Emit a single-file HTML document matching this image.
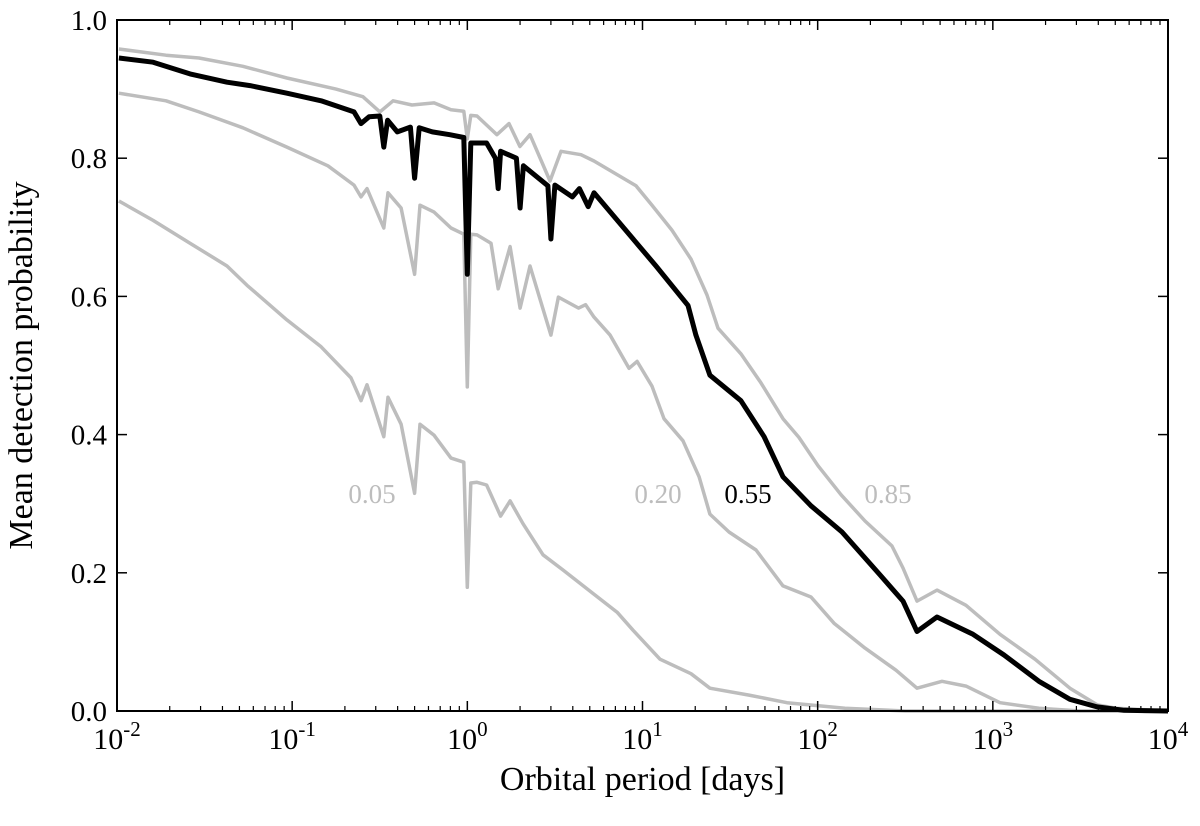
<!DOCTYPE html>
<html><head><meta charset="utf-8"><style>
body{margin:0;background:#fff}
svg text{font-family:"Liberation Serif",serif}
</style></head><body>
<svg id="chart" width="1200" height="821" viewBox="0 0 1200 821" xmlns="http://www.w3.org/2000/svg">
<g id="plot"></g>
</svg>
<script>
// log10 period values and mean detection probability for each curve
const logP85 = [-1.989,-1.72,-1.532,-1.281,-1.03,-0.75,-0.596,-0.499,-0.424,-0.316,-0.19,-0.093,-0.02,0,0.02,0.055,0.169,0.238,0.30,0.358,0.472,0.535,0.649,0.723,0.963,1.054,1.168,1.277,1.368,1.431,1.562,1.676,1.802,1.893,2.002,2.133,2.270,2.424,2.487,2.567,2.681,2.847,3.041,3.241,3.440,3.595,3.703,4.0];
const val85  = [0.958,0.949,0.945,0.933,0.916,0.900,0.889,0.867,0.883,0.877,0.880,0.870,0.868,0.828,0.862,0.861,0.834,0.850,0.817,0.834,0.767,0.810,0.805,0.796,0.76,0.732,0.696,0.654,0.602,0.554,0.517,0.475,0.423,0.396,0.355,0.313,0.275,0.239,0.207,0.159,0.175,0.153,0.111,0.075,0.033,0.009,0.004,0.0];
const logP55 = [-1.989,-1.794,-1.583,-1.372,-1.241,-1.03,-0.835,-0.647,-0.607,-0.56,-0.50,-0.477,-0.455,-0.40,-0.325,-0.301,-0.275,-0.2,-0.1,-0.02,0,0.02,0.11,0.16,0.176,0.19,0.28,0.301,0.32,0.46,0.477,0.50,0.6,0.64,0.69,0.723,1.077,1.260,1.305,1.385,1.562,1.694,1.802,1.962,2.139,2.356,2.487,2.567,2.681,2.887,3.064,3.263,3.440,3.595,3.75,4.0];
const val55  = [0.945,0.939,0.922,0.910,0.905,0.894,0.883,0.867,0.85,0.86,0.861,0.816,0.855,0.838,0.845,0.771,0.844,0.838,0.834,0.83,0.632,0.822,0.822,0.80,0.756,0.810,0.80,0.728,0.789,0.76,0.683,0.761,0.744,0.756,0.73,0.75,0.644,0.587,0.544,0.486,0.449,0.397,0.339,0.297,0.259,0.197,0.159,0.115,0.136,0.111,0.081,0.043,0.017,0.006,0.001,0.0];
const logP20 = [-1.989,-1.72,-1.532,-1.281,-1.03,-0.796,-0.647,-0.607,-0.573,-0.477,-0.453,-0.378,-0.301,-0.27,-0.19,-0.093,-0.02,0,0.02,0.055,0.135,0.176,0.244,0.301,0.358,0.477,0.52,0.635,0.675,0.723,0.815,0.923,0.969,1.054,1.123,1.231,1.323,1.385,1.494,1.648,1.802,1.962,2.093,2.270,2.447,2.567,2.710,2.847,3.041,3.263,3.5,4.0];
const val20  = [0.894,0.883,0.867,0.844,0.816,0.789,0.761,0.744,0.756,0.699,0.750,0.728,0.632,0.732,0.722,0.699,0.69,0.469,0.69,0.689,0.677,0.611,0.672,0.583,0.644,0.544,0.599,0.583,0.588,0.570,0.544,0.496,0.506,0.470,0.423,0.391,0.339,0.285,0.259,0.233,0.181,0.165,0.127,0.091,0.059,0.033,0.043,0.036,0.012,0.004,0.0,0.0];
const logP05 = [-1.989,-1.794,-1.583,-1.372,-1.258,-1.03,-0.835,-0.664,-0.607,-0.573,-0.477,-0.453,-0.378,-0.301,-0.27,-0.19,-0.093,-0.02,0,0.02,0.055,0.11,0.19,0.244,0.318,0.432,0.546,0.723,0.855,0.946,1.1,1.277,1.385,1.608,1.825,2.156,2.5,4.0];
const val05  = [0.738,0.710,0.677,0.644,0.616,0.566,0.527,0.482,0.449,0.472,0.397,0.454,0.415,0.315,0.415,0.399,0.366,0.36,0.179,0.33,0.331,0.327,0.282,0.304,0.271,0.226,0.204,0.169,0.143,0.117,0.075,0.054,0.033,0.023,0.012,0.004,0.0,0.0];
const yTicks = [0.0,0.2,0.4,0.6,0.8,1.0];
const xDecades = [-2,-1,0,1,2,3,4];

const L=117,R=1168,T=20,B=711;
const xs=v=>L+(v+2)/6*(R-L);
const ys=v=>B-v*(B-T);
const svg=document.getElementById('plot');
const NS='http://www.w3.org/2000/svg';
function mk(tag,attrs){const e=document.createElementNS(NS,tag);for(const k in attrs)e.setAttribute(k,attrs[k]);svg.appendChild(e);return e;}

function curve(lp,v,color,w,name){
  const d=lp.map((p,i)=>(i?'L':'M')+xs(p).toFixed(1)+','+ys(v[i]).toFixed(1)).join(' ');
  const e=mk('path',{d:d,fill:'none',stroke:color,'stroke-width':w,'stroke-linejoin':'round'});
  
  
}
curve(logP05,val05,'#bdbdbd',3.5,'curve-0-05');
curve(logP20,val20,'#bdbdbd',3.5,'curve-0-20');
curve(logP85,val85,'#bdbdbd',3.5,'curve-0-85');
curve(logP55,val55,'#000',5,'curve-0-55');

const fr=mk('rect',{x:L,y:T,width:R-L,height:B-T,fill:'none',stroke:'#000','stroke-width':2});



yTicks.forEach(t=>{
  const y=ys(t);
  mk('line',{x1:L,x2:L+10,y1:y,y2:y,stroke:'#000','stroke-width':1.5});
  mk('line',{x1:R,x2:R-10,y1:y,y2:y,stroke:'#000','stroke-width':1.5});
  const tx=mk('text',{x:L-10,y:y+10,'text-anchor':'end','font-size':29});
  tx.textContent=t.toFixed(1);
  
  
});
xDecades.forEach((d,i)=>{
  const x=xs(d);
  mk('line',{x1:x,x2:x,y1:B,y2:B-10,stroke:'#000','stroke-width':1.5});
  mk('line',{x1:x,x2:x,y1:T,y2:T+10,stroke:'#000','stroke-width':1.5});
  if(i<xDecades.length-1){for(let m=2;m<10;m++){const xm=xs(d+Math.log10(m));
    mk('line',{x1:xm,x2:xm,y1:B,y2:B-5,stroke:'#000','stroke-width':1.2});
    mk('line',{x1:xm,x2:xm,y1:T,y2:T+5,stroke:'#000','stroke-width':1.2});}}
  const tx=mk('text',{x:x,y:B+38,'text-anchor':'middle','font-size':30});
  tx.innerHTML='10<tspan dy="-13" font-size="21">'+d+'</tspan>';
  
  
});

const xt=mk('text',{x:(L+R)/2,y:790,'text-anchor':'middle','font-size':34});
xt.textContent='Orbital period [days]';


const yt=mk('text',{x:0,y:0,'text-anchor':'middle','font-size':34,transform:'translate(32,'+((T+B)/2)+') rotate(-90)'});
yt.textContent='Mean detection probability';



[['0.05',372,'#bdbdbd'],['0.20',658,'#bdbdbd'],['0.55',748,'#000'],['0.85',888,'#bdbdbd']].forEach(a=>{
  const t=mk('text',{x:a[1],y:503,'text-anchor':'middle','font-size':27,fill:a[2]});
  t.textContent=a[0];
  
  
});
</script>
</body></html>
